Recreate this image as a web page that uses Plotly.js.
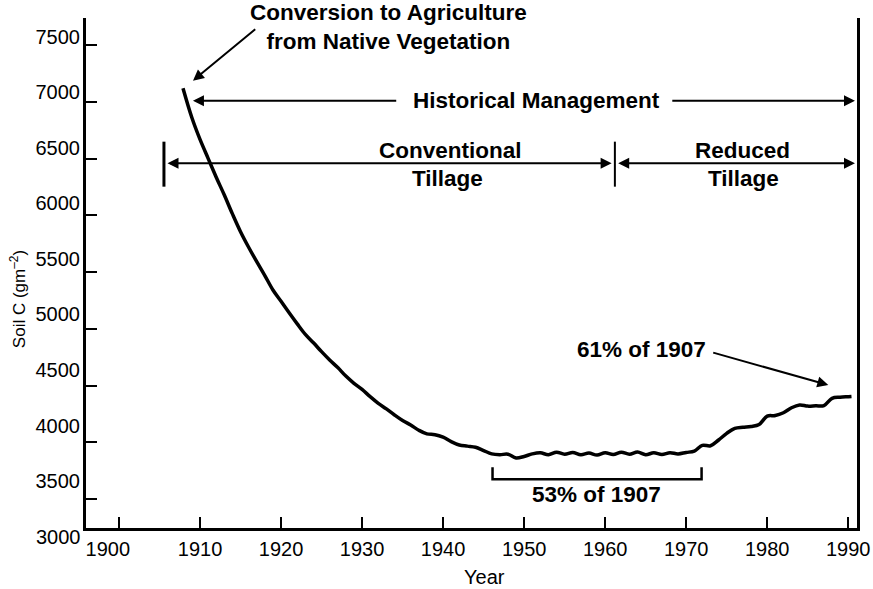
<!DOCTYPE html>
<html>
<head>
<meta charset="utf-8">
<script src="https://cdn.plot.ly/plotly-3.0.1.min.js"></script>
<style>html,body{margin:0;padding:0;background:#fff;}#chart{width:873px;height:589px;}</style>
</head>
<body>
<div id="chart"></div>
<script>
// ---- data ----
const years = [1907.9, 1909, 1910, 1911, 1912, 1913, 1914, 1915, 1916, 1917, 1918, 1919,
  1920, 1921, 1922, 1923, 1924, 1925, 1926, 1927, 1928, 1929,
  1930, 1931, 1932, 1933, 1934, 1935, 1936, 1937, 1938, 1939,
  1940, 1941, 1942, 1943, 1944, 1945, 1946, 1947, 1948, 1949,
  1950, 1951, 1952, 1953, 1954, 1955, 1956, 1957, 1958, 1959,
  1960, 1961, 1962, 1963, 1964, 1965, 1966, 1967, 1968, 1969,
  1970, 1971, 1972, 1973, 1974, 1975, 1976, 1977, 1978, 1979,
  1980, 1981, 1982, 1983, 1984, 1985, 1986, 1987, 1988, 1989, 1990, 1990.4];
const soilC = [7036, 6770, 6575, 6405, 6235, 6075, 5905, 5745, 5605, 5475, 5350, 5220,
  5118, 5015, 4915, 4820, 4745, 4665, 4590, 4522, 4445, 4380,
  4325, 4260, 4200, 4150, 4095, 4045, 4005, 3958, 3925, 3918,
  3895, 3855, 3825, 3815, 3805, 3775, 3745, 3738, 3742, 3708,
  3722, 3745, 3755, 3738, 3760, 3742, 3758, 3738, 3752, 3735,
  3755, 3740, 3760, 3742, 3762, 3738, 3755, 3740, 3755, 3745,
  3758, 3770, 3822, 3818, 3870, 3930, 3975, 3985, 3992, 4010,
  4085, 4090, 4115, 4160, 4185, 4175, 4178, 4180, 4245, 4255, 4260, 4262];
const xTickVals = [1900, 1910, 1920, 1930, 1940, 1950, 1960, 1970, 1980, 1990];
const xTickText = ['1900\u00a0\u00a0\u00a0\u00a0', '1910', '1920', '1930', '1940', '1950', '1960', '1970', '1980', '1990'];
const yTickVals = [3500, 4000, 4500, 5000, 5500, 6000, 6500, 7000, 7500];
const yLabelVals = [3000, 3500, 4000, 4500, 5000, 5500, 6000, 6500, 7000, 7500];

const FONT = "'Liberation Sans', Arial, sans-serif";
const TICKFONT = {family: FONT, size: 20, color: '#000'};
const BOLD = {family: FONT, size: 22.5, color: '#000', weight: 'bold'};

const trace = {
  x: years, y: soilC, type: 'scatter', mode: 'lines',
  line: {color: '#000', width: 3.5, shape: 'spline', smoothing: 1},
  hoverinfo: 'skip', cliponaxis: false
};

function arrow(x, y, ax, ay, side) {
  return {x: x, y: y, ax: ax, ay: ay, xref: 'x', yref: 'y', axref: 'x', ayref: 'y',
    text: '', showarrow: true, arrowhead: 2, arrowsize: 1.1, arrowwidth: 2,
    arrowcolor: '#000', arrowside: side || 'end', standoff: 0, startstandoff: 0};
}
function label(text, x, y, xref, yref) {
  return {x: x, y: y, xref: xref || 'x', yref: yref || 'y', text: text, showarrow: false,
    font: BOLD, xanchor: 'center', yanchor: 'middle', align: 'center'};
}

const annotations = [
  label('Conversion to Agriculture<br>from Native Vegetation', 0.392, 0.982, 'paper', 'paper'),
  arrow(1909.13, 7104, 1917.0, 7578),
  label('Historical Management', 1951.5, 6924),
  arrow(1909.13, 6924, 1934.4, 6924),
  arrow(1990.83, 6924, 1968.1, 6924),
  label('Conventional', 1940.97, 6480),
  label('Tillage', 1940.54, 6228),
  arrow(1960.8, 6360, 1905.8, 6360, 'end+start'),
  label('Reduced', 1977.0, 6480),
  label('Tillage', 1977.13, 6228),
  arrow(1990.83, 6360, 1961.42, 6360, 'end+start'),
  label('61% of 1907', 1964.5, 4689),
  arrow(1987.54, 4365, 1973.15, 4660),
  label('53% of 1907', 1958.95, 3384),
  {x: -0.0078, y: -0.017, xref: 'paper', yref: 'paper', text: '3000', showarrow: false,
    xanchor: 'right', yanchor: 'middle', xshift: 3, font: TICKFONT},
  {x: -0.088, y: 0.449, xref: 'paper', yref: 'paper', text: 'Soil C (gm<sup>–2</sup>)',
    showarrow: false, textangle: -90, xanchor: 'center', yanchor: 'middle',
    font: {family: FONT, size: 17, color: '#000'}},
  {x: 0.517, y: -0.096, xref: 'paper', yref: 'paper', text: 'Year', showarrow: false,
    xanchor: 'center', yanchor: 'middle', font: {family: FONT, size: 20, color: '#000'}}
];

const shapes = [
  {type: 'line', xref: 'x', yref: 'y', x0: 1905.55, x1: 1905.55, y0: 6150, y1: 6555,
    line: {color: '#000', width: 3}},
  {type: 'line', xref: 'x', yref: 'y', x0: 1961.2, x1: 1961.2, y0: 6150, y1: 6555,
    line: {color: '#000', width: 2}},
  {type: 'path', xref: 'x', yref: 'y', path: 'M 1946.1 3625 L 1946.1 3516 L 1971.9 3516 L 1971.9 3625',
    line: {color: '#000', width: 2.5}}
];

const layout = {
  width: 873, height: 589,
  margin: {l: 86, r: 16, t: 18, b: 61, pad: 0},
  paper_bgcolor: '#fff', plot_bgcolor: '#fff',
  showlegend: false,
  font: {family: FONT, size: 20, color: '#000'},
  xaxis: {
    range: [1895.93, 1991.08], tickvals: xTickVals, ticktext: xTickText, ticks: 'inside',
    ticklen: 11, tickwidth: 2, tickcolor: '#000', showline: true, linewidth: 3, linecolor: '#000',
    showgrid: false, zeroline: false, tickfont: TICKFONT, ticklabelstandoff: 1, fixedrange: true
  },
  yaxis: {
    range: [3078, 7668], tickvals: yLabelVals, ticks: '', showline: true, mirror: true,
    linewidth: 3, linecolor: '#000', showgrid: false, zeroline: false,
    tickfont: TICKFONT, ticklabelstandoff: -1, fixedrange: true
  },
  yaxis2: {
    overlaying: 'y', side: 'left', range: [3245, 7738], tickvals: yTickVals, ticks: 'inside',
    ticklen: 11, tickwidth: 2, tickcolor: '#000', showticklabels: false, showline: false,
    showgrid: false, zeroline: false, fixedrange: true
  },
  annotations: annotations,
  shapes: shapes
};

// invisible helper trace so the tick-only axis is drawn
const tickAxisTrace = {x: [1900], y: [5000], yaxis: 'y2', type: 'scatter', mode: 'markers',
  marker: {opacity: 0}, hoverinfo: 'skip', showlegend: false};

Plotly.newPlot('chart', [trace, tickAxisTrace], layout, {staticPlot: true, displayModeBar: false});
</script>
</body>
</html>
